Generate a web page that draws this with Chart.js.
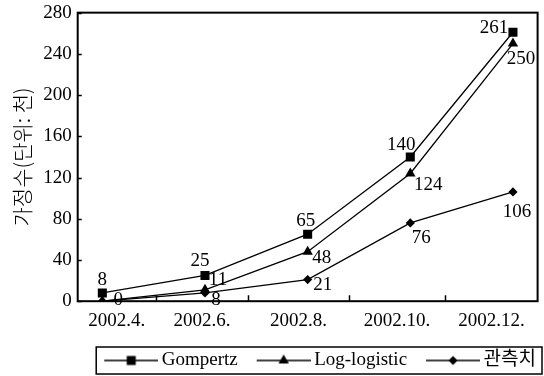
<!DOCTYPE html>
<html>
<head>
<meta charset="utf-8">
<script src="https://cdn.jsdelivr.net/npm/chart.js@4/dist/chart.umd.min.js"></script>
<style>
  html, body { margin: 0; padding: 0; background: #fff; }
  #wrap { width: 544px; height: 376px; }
</style>
</head>
<body>
<div id="wrap"><canvas id="c"></canvas></div>
<script>
// Survey months
const months = ['2002.4.', '2002.6.', '2002.8.', '2002.10.', '2002.12.'];
// Estimated household counts (thousands)
const gompertz = [8, 25, 65, 140, 261];
const logLogistic = [0, 11, 48, 124, 250];
const observed = [0, 8, 21, 76, 106];
// Which observed values carry a printed label
const observedLabelled = [false, true, true, true, true];
// Value axis ticks
const yTicks = [0, 40, 80, 120, 160, 200, 240, 280];

// Category bands along the x axis (points sit at integer indices)
const monthEdges = [-0.24, 0.52, 1.42, 2.40, 3.34, 4.24];

// Label placement relative to each point (px)
const gompertzLabelOffsets = [[0, -13], [-5, -14], [-2, -13], [-9, -12], [-19, -4]];
const logLogisticLabelOffsets = [[16, -1], [13, -10], [14, 6], [18, 12], [8, 15]];
const observedLabelOffsets = [null, [11, 7], [15, 5], [11, 15], [4, 20]];

const serif = "'Liberation Serif', 'Noto Sans CJK KR', serif";
const baseFont = { family: serif, size: 19 };

function legendIcon(style, radius) {
  const gap = 14, line = 54, box = gap + line - 6;
  const w = box + 12, h = 16;
  const cv = document.createElement('canvas');
  cv.width = w; cv.height = h;
  const ctx = cv.getContext('2d');
  const x0 = w - line, cy = h / 2;
  ctx.strokeStyle = '#000';
  ctx.fillStyle = '#000';
  ctx.lineWidth = 1.3;
  ctx.beginPath();
  ctx.moveTo(x0, cy);
  ctx.lineTo(w, cy);
  ctx.stroke();
  Chart.helpers.drawPoint(ctx, { pointStyle: style, radius: radius, rotation: 0, borderWidth: 0 }, x0 + line / 2, cy);
  return cv;
}

const valueLabels = {
  id: 'valueLabels',
  afterDatasetsDraw(chart) {
    const ctx = chart.ctx;
    ctx.save();
    ctx.font = `${baseFont.size}px ${serif}`;
    ctx.fillStyle = '#000';
    ctx.textAlign = 'center';
    ctx.textBaseline = 'middle';
    chart.data.datasets.forEach((ds, i) => {
      const meta = chart.getDatasetMeta(i);
      ds.data.forEach((p, j) => {
        const off = ds.labelOffsets[j];
        if (!off) return;
        const pt = meta.data[j];
        ctx.fillText(String(p.y), pt.x + off[0], pt.y + off[1]);
      });
    });
    ctx.restore();
  }
};

const frame = {
  id: 'frame',
  afterDraw(chart) {
    const { ctx, chartArea: a } = chart;
    const xs = chart.scales.x, ys = chart.scales.y;
    ctx.save();
    ctx.strokeStyle = '#000';
    ctx.lineWidth = 1.5;
    ctx.beginPath();
    // inward tick marks between month bands
    monthEdges.slice(1, -1).forEach(e => {
      const px = Math.round(xs.getPixelForValue(e)) + 0.5;
      ctx.moveTo(px, a.bottom);
      ctx.lineTo(px, a.bottom - 6);
    });
    // inward tick marks on the value axis
    yTicks.forEach(t => {
      const py = Math.round(ys.getPixelForValue(t)) + 0.5;
      ctx.moveTo(a.left, py);
      ctx.lineTo(a.left + 4, py);
    });
    ctx.stroke();
    ctx.lineWidth = 2;
    ctx.strokeRect(a.left, a.top, a.right - a.left, a.bottom - a.top);
    // border around the legend
    const hb = chart.legend.legendHitBoxes;
    if (hb && hb.length) {
      const first = hb[0], last = hb[hb.length - 1];
      ctx.lineWidth = 1.5;
      const left = first.left + 6, right = last.left + last.width + 6;
      ctx.strokeRect(left, first.top - 4, right - left, first.height + 8);
    }
    ctx.restore();
  }
};

new Chart(document.getElementById('c'), {
  type: 'line',
  data: {
    datasets: [
      {
        label: 'Gompertz',
        data: gompertz.map((v, i) => ({ x: i, y: v })),
        labelOffsets: gompertzLabelOffsets,
        pointStyle: 'rect', pointRadius: 6.4,
        legendRadius: 6.4
      },
      {
        label: 'Log-logistic',
        data: logLogistic.map((v, i) => ({ x: i, y: v })),
        labelOffsets: logLogisticLabelOffsets,
        pointStyle: 'triangle', pointRadius: 6,
        legendRadius: 6
      },
      {
        label: '관측치',
        data: observed.map((v, i) => ({ x: i, y: v })),
        labelOffsets: observedLabelOffsets.map((o, i) => observedLabelled[i] ? o : null),
        pointStyle: 'rectRot', pointRadius: 4.6,
        legendRadius: 4.6
      }
    ].map(ds => Object.assign({
      borderColor: '#000', backgroundColor: '#000', borderWidth: 1.3,
      pointBackgroundColor: '#000', pointBorderWidth: 0, pointHoverRadius: 6,
      tension: 0, fill: false
    }, ds))
  },
  options: {
    responsive: true,
    maintainAspectRatio: false,
    animation: false,
    events: [],
    layout: { padding: { top: 0, right: 3, bottom: -4, left: 9 } },
    scales: {
      x: {
        type: 'linear',
        min: monthEdges[0],
        max: monthEdges[monthEdges.length - 1],
        afterBuildTicks: scale => {
          scale.ticks = months.map((m, i) => ({ value: (monthEdges[i] + monthEdges[i + 1]) / 2 }));
        },
        afterFit: scale => { scale.height += 6; },
        ticks: {
          callback: (v, i) => months[i],
          autoSkip: false, maxRotation: 0, padding: 8,
          color: '#000', font: baseFont
        },
        grid: { display: false, drawTicks: false },
        border: { display: false }
      },
      y: {
        min: 0, max: 280,
        afterBuildTicks: scale => { scale.ticks = yTicks.map(v => ({ value: v })); },
        ticks: { padding: 6, color: '#000', font: { family: serif, size: 19, lineHeight: 0.7 } },
        grid: { display: false, drawTicks: false },
        border: { display: false },
        title: {
          display: true,
          text: '가정수(단위: 천)',
          color: '#000',
          font: { family: "'Noto Sans CJK KR', sans-serif", size: 21, weight: 300 },
          padding: { top: 0, bottom: 3 }
        }
      }
    },
    plugins: {
      legend: {
        position: 'bottom',
        align: 'end',
        labels: {
          usePointStyle: true,
          pointStyleWidth: 62,
          padding: 5,
          color: '#000',
          font: baseFont,
          generateLabels(chart) {
            const items = Chart.defaults.plugins.legend.labels.generateLabels(chart);
            items.forEach((it, i) => {
              const ds = chart.data.datasets[i];
              it.pointStyle = legendIcon(ds.pointStyle, ds.legendRadius);
            });
            return items;
          }
        }
      },
      tooltip: { enabled: false }
    }
  },
  plugins: [valueLabels, frame]
});
</script>
</body>
</html>
